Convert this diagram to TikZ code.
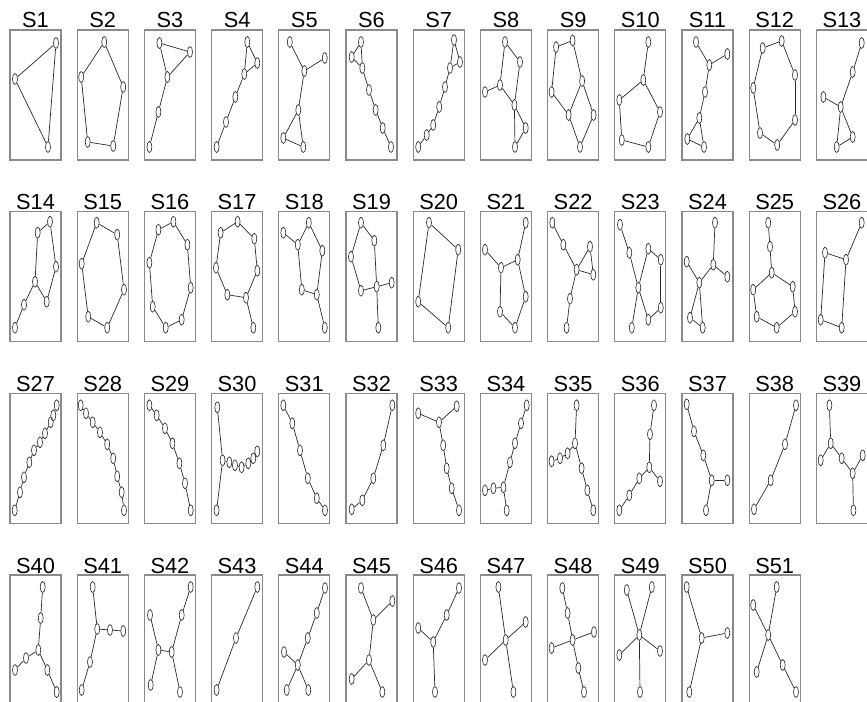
\documentclass[tikz,border=0pt]{standalone}
\usepackage{fontspec}
\setmainfont{Liberation Sans}
\usetikzlibrary{shapes.geometric}
\definecolor{frameg}{HTML}{8A8A8A}
\definecolor{inkg}{HTML}{2A2A2A}

\begin{document}
\begin{tikzpicture}[
  x=0.25mm, y=-0.25mm,
  frame/.style={draw=frameg, line width=0.8pt},
  tag/.style={anchor=base, inner sep=0pt, font=\fontsize{15.5}{16}\selectfont},
  vtx/.style={draw=inkg, fill=white, ellipse, line width=0.45pt,
              minimum width=1.25mm, minimum height=2.75mm, inner sep=0pt},
  edge/.style={draw=inkg, line width=0.5pt},
]
\useasboundingbox (0,0) rectangle (867,702);

% ---- row 1
\begin{scope}[shift={(10,30)}]
  \draw[frame] (0,0) rectangle (51,130);
  \node[tag] (t1) at (25.5,-2) {S1};
  \foreach \n/\x/\y in {a/46/13,b/5/49,c/38/117}
    \node[vtx] (s1\n) at (\x,\y) {};
  \foreach \p/\q in {a/b,a/c,b/c}
    \draw[edge] (s1\p) -- (s1\q);
\end{scope}

\begin{scope}[shift={(77.2,30)}]
  \draw[frame] (0,0) rectangle (51,130);
  \node[tag] (t2) at (25.5,-2) {S2};
  \foreach \n/\x/\y in {a/27/12,b/4/47,c/46/57,d/10.5/112,e/36/116}
    \node[vtx] (s2\n) at (\x,\y) {};
  \foreach \p/\q in {a/b,b/d,d/e,e/c,c/a}
    \draw[edge] (s2\p) -- (s2\q);
\end{scope}

\begin{scope}[shift={(144.4,30)}]
  \draw[frame] (0,0) rectangle (51,130);
  \node[tag] (t3) at (25.5,-2) {S3};
  \foreach \n/\x/\y in {a/15/13,b/45.6/22,c/23/47,d/14/82,e/5/117}
    \node[vtx] (s3\n) at (\x,\y) {};
  \foreach \p/\q in {a/b,a/c,b/c,c/d,d/e}
    \draw[edge] (s3\p) -- (s3\q);
\end{scope}

\begin{scope}[shift={(211.6,30)}]
  \draw[frame] (0,0) rectangle (51,130);
  \node[tag] (t4) at (25.5,-2) {S4};
  \foreach \n/\x/\y in {a/35.7/12,b/45.7/33,c/32.7/44,d/23.7/67,e/14.4/92,f/5/117}
    \node[vtx] (s4\n) at (\x,\y) {};
  \foreach \p/\q in {a/b,a/c,b/c,c/d,d/e,e/f}
    \draw[edge] (s4\p) -- (s4\q);
\end{scope}

\begin{scope}[shift={(278.8,30)}]
  \draw[frame] (0,0) rectangle (51,130);
  \node[tag] (t5) at (25.5,-2) {S5};
  \foreach \n/\x/\y in {a/11/12,b/46/28,c/25.5/41,d/19.5/80,e/4.5/108,f/24.5/117}
    \node[vtx] (s5\n) at (\x,\y) {};
  \foreach \p/\q in {a/c,b/c,c/d,d/e,d/f,e/f}
    \draw[edge] (s5\p) -- (s5\q);
\end{scope}

\begin{scope}[shift={(346,30)}]
  \draw[frame] (0,0) rectangle (51,130);
  \node[tag] (t6) at (25.5,-2) {S6};
  \foreach \n/\x/\y in {a/15/12,b/5.7/27,c/16.3/38,d/23/60,e/29.7/80,f/36.7/98,g/45/117}
    \node[vtx] (s6\n) at (\x,\y) {};
  \foreach \p/\q in {a/b,a/c,b/c,c/d,d/e,e/f,f/g}
    \draw[edge] (s6\p) -- (s6\q);
\end{scope}

\begin{scope}[shift={(413.2,30)}]
  \draw[frame] (0,0) rectangle (51,130);
  \node[tag] (t7) at (25.5,-2) {S7};
  \foreach \n/\x/\y in {a/40.8/10,b/46.8/32,c/36.8/38,d/31.8/57,e/26/77,f/20/95,g/13.5/105,h/5/117}
    \node[vtx] (s7\n) at (\x,\y) {};
  \foreach \p/\q in {a/b,a/c,b/c,c/d,d/e,e/f,f/g,g/h}
    \draw[edge] (s7\p) -- (s7\q);
\end{scope}

\begin{scope}[shift={(480.4,30)}]
  \draw[frame] (0,0) rectangle (51,130);
  \node[tag] (t8) at (25.5,-2) {S8};
  \foreach \n/\x/\y in {a/24.6/12,b/39.6/32,c/19.6/55,d/4.6/62,e/34/75,f/45.3/98,g/34.6/117}
    \node[vtx] (s8\n) at (\x,\y) {};
  \foreach \p/\q in {a/b,a/c,b/e,c/e,c/d,e/f,e/g,f/g}
    \draw[edge] (s8\p) -- (s8\q);
\end{scope}

\begin{scope}[shift={(547.6,30)}]
  \draw[frame] (0,0) rectangle (51,130);
  \node[tag] (t9) at (25.5,-2) {S9};
  \foreach \n/\x/\y in {a/8.5/17,b/25/10.5,c/34.5/51,d/4/62,e/21/85,f/46/85,g/32.4/117}
    \node[vtx] (s9\n) at (\x,\y) {};
  \foreach \p/\q in {a/b,b/c,a/d,d/e,c/e,c/f,e/g,f/g}
    \draw[edge] (s9\p) -- (s9\q);
\end{scope}

\begin{scope}[shift={(614.8,30)}]
  \draw[frame] (0,0) rectangle (51,130);
  \node[tag] (t10) at (25.5,-2) {S10};
  \foreach \n/\x/\y in {a/33.5/12,b/28.5/50,c/4.5/70,d/45.2/82,e/7/110,f/33.5/117}
    \node[vtx] (s10\n) at (\x,\y) {};
  \foreach \p/\q in {a/b,b/c,b/d,c/e,e/f,f/d}
    \draw[edge] (s10\p) -- (s10\q);
\end{scope}

\begin{scope}[shift={(682,30)}]
  \draw[frame] (0,0) rectangle (51,130);
  \node[tag] (t11) at (25.5,-2) {S11};
  \foreach \n/\x/\y in {a/14/12,b/45.3/24,c/27.3/35,d/23/62,e/17.3/88,f/5.3/109,g/22/117}
    \node[vtx] (s11\n) at (\x,\y) {};
  \foreach \p/\q in {a/c,b/c,c/d,d/e,e/f,e/g,f/g}
    \draw[edge] (s11\p) -- (s11\q);
\end{scope}

\begin{scope}[shift={(749.2,30)}]
  \draw[frame] (0,0) rectangle (51,130);
  \node[tag] (t12) at (25.5,-2) {S12};
  \foreach \n/\x/\y in {a/13.5/18,b/32.5/11,c/45.8/45,d/4/58,e/45.8/90,f/10.8/103,g/28/115}
    \node[vtx] (s12\n) at (\x,\y) {};
  \foreach \p/\q in {a/b,b/c,c/e,e/g,g/f,f/d,d/a}
    \draw[edge] (s12\p) -- (s12\q);
\end{scope}

\begin{scope}[shift={(816.4,30)}]
  \draw[frame] (0,0) rectangle (51,130);
  \node[tag] (t13) at (25.5,-2) {S13};
  \foreach \n/\x/\y in {a/45.3/13,b/36.3/42,c/7/67,d/24.3/77,e/36.3/107,f/20.3/117}
    \node[vtx] (s13\n) at (\x,\y) {};
  \foreach \p/\q in {a/b,b/d,c/d,d/e,d/f,e/f}
    \draw[edge] (s13\p) -- (s13\q);
\end{scope}

% ---- row 2
\begin{scope}[shift={(10,211.7)}]
  \draw[frame] (0,0) rectangle (51,130);
  \node[tag] (t14) at (25.5,-2) {S14};
  \foreach \n/\x/\y in {a/40/10,b/27.7/21,c/46/55,d/25/70,e/36.7/90,f/14/93,g/5/116}
    \node[vtx] (s14\n) at (\x,\y) {};
  \foreach \p/\q in {a/b,a/c,c/e,e/d,d/b,d/f,f/g}
    \draw[edge] (s14\p) -- (s14\q);
\end{scope}

\begin{scope}[shift={(77.2,211.7)}]
  \draw[frame] (0,0) rectangle (51,130);
  \node[tag] (t15) at (25.5,-2) {S15};
  \foreach \n/\x/\y in {a/19.5/11,b/40/23,c/4.5/52,d/46.8/78,e/11/105,f/30/116}
    \node[vtx] (s15\n) at (\x,\y) {};
  \foreach \p/\q in {a/b,b/d,d/f,f/e,e/c,c/a}
    \draw[edge] (s15\p) -- (s15\q);
\end{scope}

\begin{scope}[shift={(144.4,211.7)}]
  \draw[frame] (0,0) rectangle (51,130);
  \node[tag] (t16) at (25.5,-2) {S16};
  \foreach \n/\x/\y in {a/29/10,b/14/18,c/43/33,d/5/51,e/46.3/76,f/8.3/95,g/37.3/108,h/21.3/116}
    \node[vtx] (s16\n) at (\x,\y) {};
  \foreach \p/\q in {a/b,a/c,c/e,e/g,g/h,h/f,f/d,d/b}
    \draw[edge] (s16\p) -- (s16\q);
\end{scope}

\begin{scope}[shift={(211.6,211.7)}]
  \draw[frame] (0,0) rectangle (51,130);
  \node[tag] (t17) at (25.5,-2) {S17};
  \foreach \n/\x/\y in {a/26/10,b/9/21,c/42.7/27,d/4.4/56,e/45.7/59,f/15.7/83,g/34.4/86,h/41.7/116}
    \node[vtx] (s17\n) at (\x,\y) {};
  \foreach \p/\q in {a/b,a/c,c/e,e/g,g/f,f/d,d/b,g/h}
    \draw[edge] (s17\p) -- (s17\q);
\end{scope}

\begin{scope}[shift={(278.8,211.7)}]
  \draw[frame] (0,0) rectangle (51,130);
  \node[tag] (t18) at (25.5,-2) {S18};
  \foreach \n/\x/\y in {a/4.5/21,b/19/33,c/30/11,d/43.5/39,e/23/78,f/38/83,g/46/116}
    \node[vtx] (s18\n) at (\x,\y) {};
  \foreach \p/\q in {a/b,b/c,c/d,d/f,f/e,e/b,f/g}
    \draw[edge] (s18\p) -- (s18\q);
\end{scope}

\begin{scope}[shift={(346,211.7)}]
  \draw[frame] (0,0) rectangle (51,130);
  \node[tag] (t19) at (25.5,-2) {S19};
  \foreach \n/\x/\y in {a/15/11,b/28.3/29,c/5/45,d/30.7/75,e/15/79,f/45.7/71,g/32.3/116}
    \node[vtx] (s19\n) at (\x,\y) {};
  \foreach \p/\q in {a/b,b/d,d/e,e/c,c/a,d/f,d/g}
    \draw[edge] (s19\p) -- (s19\q);
\end{scope}

\begin{scope}[shift={(413.2,211.7)}]
  \draw[frame] (0,0) rectangle (51,130);
  \node[tag] (t20) at (25.5,-2) {S20};
  \foreach \n/\x/\y in {a/15.8/11,b/45/38,c/5/90,d/35/116}
    \node[vtx] (s20\n) at (\x,\y) {};
  \foreach \p/\q in {a/b,b/d,d/c,c/a}
    \draw[edge] (s20\p) -- (s20\q);
\end{scope}

\begin{scope}[shift={(480.4,211.7)}]
  \draw[frame] (0,0) rectangle (51,130);
  \node[tag] (t21) at (25.5,-2) {S21};
  \foreach \n/\x/\y in {a/45.3/11,b/4.6/38,c/37.3/48,d/20.6/56,e/45.3/85,f/19.6/100,g/34.6/116}
    \node[vtx] (s21\n) at (\x,\y) {};
  \foreach \p/\q in {a/c,b/d,c/d,c/e,e/g,g/f,f/d}
    \draw[edge] (s21\p) -- (s21\q);
\end{scope}

\begin{scope}[shift={(547.6,211.7)}]
  \draw[frame] (0,0) rectangle (51,130);
  \node[tag] (t22) at (25.5,-2) {S22};
  \foreach \n/\x/\y in {a/4.7/11,b/15.7/33,c/29/58,d/42.4/35,e/45.7/63,f/22.4/87,g/19/116}
    \node[vtx] (s22\n) at (\x,\y) {};
  \foreach \p/\q in {a/b,b/c,c/d,c/e,d/e,c/f,f/g}
    \draw[edge] (s22\p) -- (s22\q);
\end{scope}

\begin{scope}[shift={(614.8,211.7)}]
  \draw[frame] (0,0) rectangle (51,130);
  \node[tag] (t23) at (25.5,-2) {S23};
  \foreach \n/\x/\y in {a/5.2/13,b/14.5/41,c/33.5/37,d/46/48,e/23.5/76,f/46/96,g/33.5/108,h/17/116}
    \node[vtx] (s23\n) at (\x,\y) {};
  \foreach \p/\q in {a/b,b/e,e/h,e/c,c/d,d/f,f/g,g/e}
    \draw[edge] (s23\p) -- (s23\q);
\end{scope}

\begin{scope}[shift={(682,211.7)}]
  \draw[frame] (0,0) rectangle (51,130);
  \node[tag] (t24) at (25.5,-2) {S24};
  \foreach \n/\x/\y in {a/33/11,b/31.3/53,c/45.3/65,d/4.7/50,e/17.3/71,f/8/106,g/20.7/116}
    \node[vtx] (s24\n) at (\x,\y) {};
  \foreach \p/\q in {a/b,b/c,b/e,d/e,e/f,e/g,f/g}
    \draw[edge] (s24\p) -- (s24\q);
\end{scope}

\begin{scope}[shift={(749.2,211.7)}]
  \draw[frame] (0,0) rectangle (51,130);
  \node[tag] (t25) at (25.5,-2) {S25};
  \foreach \n/\x/\y in {a/19/11,b/20.8/35,c/22.5/61,d/43.5/75,e/4/78,f/45.8/100,g/7.5/105,h/27.5/116}
    \node[vtx] (s25\n) at (\x,\y) {};
  \foreach \p/\q in {a/b,b/c,c/d,d/f,f/h,h/g,g/e,e/c}
    \draw[edge] (s25\p) -- (s25\q);
\end{scope}

\begin{scope}[shift={(816.4,211.7)}]
  \draw[frame] (0,0) rectangle (51,130);
  \node[tag] (t26) at (25.5,-2) {S26};
  \foreach \n/\x/\y in {a/45.3/11,b/29.6/48,c/8.6/41,d/4.3/108,e/25.3/116}
    \node[vtx] (s26\n) at (\x,\y) {};
  \foreach \p/\q in {a/b,b/c,c/d,d/e,e/b}
    \draw[edge] (s26\p) -- (s26\q);
\end{scope}

% ---- row 3
\begin{scope}[shift={(10,393.3)}]
  \draw[frame] (0,0) rectangle (51,130);
  \node[tag] (t27) at (25.5,-2) {S27};
  \foreach \n/\x/\y in {a/4.7/117,b/10/99,c/14/84,d/19.3/69,e/24/57,f/30/49,g/35/40,h/40.7/29,i/43.3/22,j/46.7/12}
    \node[vtx] (s27\n) at (\x,\y) {};
  \foreach \p/\q in {a/b,b/c,c/d,d/e,e/f,f/g,g/h,h/i,i/j}
    \draw[edge] (s27\p) -- (s27\q);
\end{scope}

\begin{scope}[shift={(77.2,393.3)}]
  \draw[frame] (0,0) rectangle (51,130);
  \node[tag] (t28) at (25.5,-2) {S28};
  \foreach \n/\x/\y in {a/3.5/12,b/8.8/20,c/15.5/29,d/22.8/39,e/30/51,f/36/65,g/40/83,h/44.5/99,i/46.8/117}
    \node[vtx] (s28\n) at (\x,\y) {};
  \foreach \p/\q in {a/b,b/c,c/d,d/e,e/f,f/g,g/h,h/i}
    \draw[edge] (s28\p) -- (s28\q);
\end{scope}

\begin{scope}[shift={(144.4,393.3)}]
  \draw[frame] (0,0) rectangle (51,130);
  \node[tag] (t29) at (25.5,-2) {S29};
  \foreach \n/\x/\y in {a/5/12,b/12.3/22,c/20.6/35,d/28/50,e/35/70,f/40.6/90,g/46.3/117}
    \node[vtx] (s29\n) at (\x,\y) {};
  \foreach \p/\q in {a/b,b/c,c/d,d/e,e/f,f/g}
    \draw[edge] (s29\p) -- (s29\q);
\end{scope}

\begin{scope}[shift={(211.6,393.3)}]
  \draw[frame] (0,0) rectangle (51,130);
  \node[tag] (t30) at (25.5,-2) {S30};
  \foreach \n/\x/\y in {a/5.7/14,b/11/67,c/5/117,d/17.7/69,e/23.4/72,f/30/74,g/36.7/70,h/41.7/65,i/45.7/58}
    \node[vtx] (s30\n) at (\x,\y) {};
  \foreach \p/\q in {a/b,b/c,b/d,d/e,e/f,f/g,g/h,h/i}
    \draw[edge] (s30\p) -- (s30\q);
\end{scope}

\begin{scope}[shift={(278.8,393.3)}]
  \draw[frame] (0,0) rectangle (51,130);
  \node[tag] (t31) at (25.5,-2) {S31};
  \foreach \n/\x/\y in {a/4.5/12,b/13.5/30,c/21.2/57,d/29/85,e/38/105,f/46.2/117}
    \node[vtx] (s31\n) at (\x,\y) {};
  \foreach \p/\q in {a/b,b/c,c/d,d/e,e/f}
    \draw[edge] (s31\p) -- (s31\q);
\end{scope}

\begin{scope}[shift={(346,393.3)}]
  \draw[frame] (0,0) rectangle (51,130);
  \node[tag] (t32) at (25.5,-2) {S32};
  \foreach \n/\x/\y in {a/46.3/12,b/37.3/52,c/27.3/85,d/16.3/107,e/5.7/116}
    \node[vtx] (s32\n) at (\x,\y) {};
  \foreach \p/\q in {a/b,b/c,c/d,d/e}
    \draw[edge] (s32\p) -- (s32\q);
\end{scope}

\begin{scope}[shift={(413.2,393.3)}]
  \draw[frame] (0,0) rectangle (51,130);
  \node[tag] (t33) at (25.5,-2) {S33};
  \foreach \n/\x/\y in {a/5/20,b/43.5/13,c/25.8/29,d/30/52,e/33.5/75,f/38.5/95,g/45.8/117}
    \node[vtx] (s33\n) at (\x,\y) {};
  \foreach \p/\q in {a/c,b/c,c/d,d/e,e/f,f/g}
    \draw[edge] (s33\p) -- (s33\q);
\end{scope}

\begin{scope}[shift={(480.4,393.3)}]
  \draw[frame] (0,0) rectangle (51,130);
  \node[tag] (t34) at (25.5,-2) {S34};
  \foreach \n/\x/\y in {a/46.3/12,b/40.6/30,c/34.6/50,d/29.6/69,e/23/94,f/13/95,g/4.6/97,h/26.3/117}
    \node[vtx] (s34\n) at (\x,\y) {};
  \foreach \p/\q in {a/b,b/c,c/d,d/e,e/f,f/g,e/h}
    \draw[edge] (s34\p) -- (s34\q);
\end{scope}

\begin{scope}[shift={(547.6,393.3)}]
  \draw[frame] (0,0) rectangle (51,130);
  \node[tag] (t35) at (25.5,-2) {S35};
  \foreach \n/\x/\y in {a/29/12,b/27.4/50,c/34/75,d/39.7/97,e/45.7/117,f/20/60,g/12.4/65,h/4/68}
    \node[vtx] (s35\n) at (\x,\y) {};
  \foreach \p/\q in {a/b,b/c,c/d,d/e,b/f,f/g,g/h}
    \draw[edge] (s35\p) -- (s35\q);
\end{scope}

\begin{scope}[shift={(614.8,393.3)}]
  \draw[frame] (0,0) rectangle (51,130);
  \node[tag] (t36) at (25.5,-2) {S36};
  \foreach \n/\x/\y in {a/39.2/12,b/35.2/41,c/34.5/74,d/45.2/88,e/24.5/85,f/14.5/102,g/4.5/117}
    \node[vtx] (s36\n) at (\x,\y) {};
  \foreach \p/\q in {a/b,b/c,c/d,c/e,e/f,f/g}
    \draw[edge] (s36\p) -- (s36\q);
\end{scope}

\begin{scope}[shift={(682,393.3)}]
  \draw[frame] (0,0) rectangle (51,130);
  \node[tag] (t37) at (25.5,-2) {S37};
  \foreach \n/\x/\y in {a/4.7/11,b/12/38,c/21.3/62,d/29.7/87,e/45.3/87,f/24/117}
    \node[vtx] (s37\n) at (\x,\y) {};
  \foreach \p/\q in {a/b,b/c,c/d,d/e,d/f}
    \draw[edge] (s37\p) -- (s37\q);
\end{scope}

\begin{scope}[shift={(749.2,393.3)}]
  \draw[frame] (0,0) rectangle (51,130);
  \node[tag] (t38) at (25.5,-2) {S38};
  \foreach \n/\x/\y in {a/46.8/12,b/35.8/51,c/21.5/87,d/4.8/116}
    \node[vtx] (s38\n) at (\x,\y) {};
  \foreach \p/\q in {a/b,b/c,c/d}
    \draw[edge] (s38\p) -- (s38\q);
\end{scope}

\begin{scope}[shift={(816.4,393.3)}]
  \draw[frame] (0,0) rectangle (51,130);
  \node[tag] (t39) at (25.5,-2) {S39};
  \foreach \n/\x/\y in {a/13/12,b/14.3/50,c/4.3/67,d/25.3/65,e/36.3/80,f/46.3/62,g/37/117}
    \node[vtx] (s39\n) at (\x,\y) {};
  \foreach \p/\q in {a/b,b/c,b/d,d/e,e/f,e/g}
    \draw[edge] (s39\p) -- (s39\q);
\end{scope}

% ---- row 4
\begin{scope}[shift={(10,575)}]
  \draw[frame] (0,0) rectangle (51,130);
  \node[tag] (t40) at (25.5,-2) {S40};
  \foreach \n/\x/\y in {a/32.7/12,b/30.7/43,c/28.3/75,d/16/83,e/5/95,f/37.3/95,g/46.7/117}
    \node[vtx] (s40\n) at (\x,\y) {};
  \foreach \p/\q in {a/b,b/c,c/d,d/e,c/f,f/g}
    \draw[edge] (s40\p) -- (s40\q);
\end{scope}

\begin{scope}[shift={(77.2,575)}]
  \draw[frame] (0,0) rectangle (51,130);
  \node[tag] (t41) at (25.5,-2) {S41};
  \foreach \n/\x/\y in {a/15.5/12,b/20/54,c/32.8/55,d/46/56,e/12.8/87,f/4.5/115}
    \node[vtx] (s41\n) at (\x,\y) {};
  \foreach \p/\q in {a/b,b/c,c/d,b/e,e/f}
    \draw[edge] (s41\p) -- (s41\q);
\end{scope}

\begin{scope}[shift={(144.4,575)}]
  \draw[frame] (0,0) rectangle (51,130);
  \node[tag] (t42) at (25.5,-2) {S42};
  \foreach \n/\x/\y in {a/46.3/12,b/37.3/40,c/27.3/77,d/14/75,e/5.6/40,f/6.3/110,g/35.6/117}
    \node[vtx] (s42\n) at (\x,\y) {};
  \foreach \p/\q in {a/b,b/c,c/d,d/e,d/f,c/g}
    \draw[edge] (s42\p) -- (s42\q);
\end{scope}

\begin{scope}[shift={(211.6,575)}]
  \draw[frame] (0,0) rectangle (51,130);
  \node[tag] (t43) at (25.5,-2) {S43};
  \foreach \n/\x/\y in {a/45.7/12,b/24.4/63,c/5/115}
    \node[vtx] (s43\n) at (\x,\y) {};
  \foreach \p/\q in {a/b,b/c}
    \draw[edge] (s43\p) -- (s43\q);
\end{scope}

\begin{scope}[shift={(278.8,575)}]
  \draw[frame] (0,0) rectangle (51,130);
  \node[tag] (t44) at (25.5,-2) {S44};
  \foreach \n/\x/\y in {a/46.2/13,b/38/38,c/29/63,d/19/90,e/5.2/77,f/8/115,g/29.5/115}
    \node[vtx] (s44\n) at (\x,\y) {};
  \foreach \p/\q in {a/b,b/c,c/d,d/e,d/f,d/g}
    \draw[edge] (s44\p) -- (s44\q);
\end{scope}

\begin{scope}[shift={(346,575)}]
  \draw[frame] (0,0) rectangle (51,130);
  \node[tag] (t45) at (25.5,-2) {S45};
  \foreach \n/\x/\y in {a/15/13,b/46.3/26,c/27.3/45,d/23/85,e/5.7/104,f/36.3/117}
    \node[vtx] (s45\n) at (\x,\y) {};
  \foreach \p/\q in {a/c,b/c,c/d,d/e,d/f}
    \draw[edge] (s45\p) -- (s45\q);
\end{scope}

\begin{scope}[shift={(413.2,575)}]
  \draw[frame] (0,0) rectangle (51,130);
  \node[tag] (t46) at (25.5,-2) {S46};
  \foreach \n/\x/\y in {a/45.8/13,b/33.5/40,c/20/67,d/5/53,e/21.8/117}
    \node[vtx] (s46\n) at (\x,\y) {};
  \foreach \p/\q in {a/b,b/c,d/c,c/e}
    \draw[edge] (s46\p) -- (s46\q);
\end{scope}

\begin{scope}[shift={(480.4,575)}]
  \draw[frame] (0,0) rectangle (51,130);
  \node[tag] (t47) at (25.5,-2) {S47};
  \foreach \n/\x/\y in {a/18/12,b/45.3/47,c/25.3/65,d/4.6/85,e/33/117}
    \node[vtx] (s47\n) at (\x,\y) {};
  \foreach \p/\q in {a/c,b/c,d/c,e/c}
    \draw[edge] (s47\p) -- (s47\q);
\end{scope}

\begin{scope}[shift={(547.6,575)}]
  \draw[frame] (0,0) rectangle (51,130);
  \node[tag] (t48) at (25.5,-2) {S48};
  \foreach \n/\x/\y in {a/14.7/13,b/20/38,c/25/65,d/4/73,e/46.4/57,f/30.7/93,g/36.4/117}
    \node[vtx] (s48\n) at (\x,\y) {};
  \foreach \p/\q in {a/b,b/c,d/c,e/c,c/f,f/g}
    \draw[edge] (s48\p) -- (s48\q);
\end{scope}

\begin{scope}[shift={(614.8,575)}]
  \draw[frame] (0,0) rectangle (51,130);
  \node[tag] (t49) at (25.5,-2) {S49};
  \foreach \n/\x/\y in {a/12/15,b/37/12,c/24.5/60,d/4.5/80,e/45.2/76,f/25.2/117}
    \node[vtx] (s49\n) at (\x,\y) {};
  \foreach \p/\q in {a/c,b/c,d/c,e/c,f/c}
    \draw[edge] (s49\p) -- (s49\q);
\end{scope}

\begin{scope}[shift={(682,575)}]
  \draw[frame] (0,0) rectangle (51,130);
  \node[tag] (t50) at (25.5,-2) {S50};
  \foreach \n/\x/\y in {a/4.7/12,b/19.7/63,c/45.3/58,d/7.3/117}
    \node[vtx] (s50\n) at (\x,\y) {};
  \foreach \p/\q in {a/b,c/b,d/b}
    \draw[edge] (s50\p) -- (s50\q);
\end{scope}

\begin{scope}[shift={(749.2,575)}]
  \draw[frame] (0,0) rectangle (51,130);
  \node[tag] (t51) at (25.5,-2) {S51};
  \foreach \n/\x/\y in {a/4/30,b/27.5/12,c/19/60,d/7.5/97,e/33.5/90,f/46.8/117}
    \node[vtx] (s51\n) at (\x,\y) {};
  \foreach \p/\q in {a/c,b/c,c/d,c/e,e/f}
    \draw[edge] (s51\p) -- (s51\q);
\end{scope}
\end{tikzpicture}
\end{document}
